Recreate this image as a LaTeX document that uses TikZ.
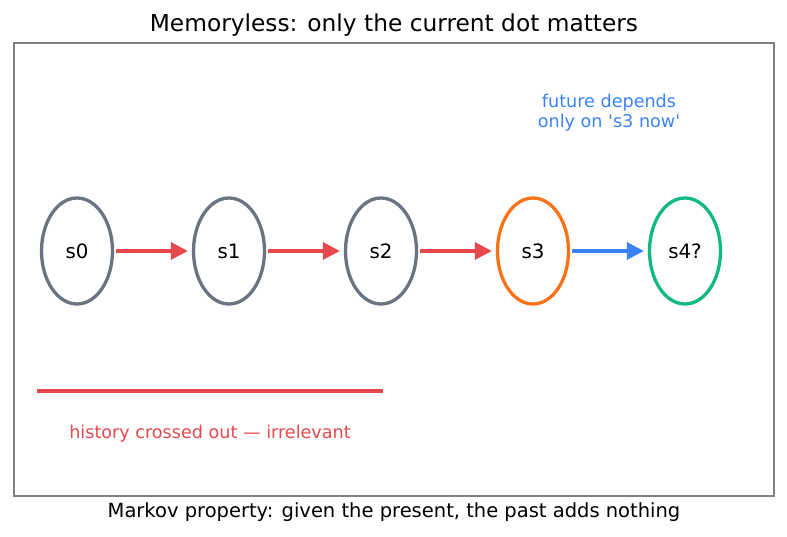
\documentclass[tikz,border=0pt]{standalone}
\usepackage{fontspec}
\setmainfont{DejaVu Sans}[Ligatures=TeXOff]
\usetikzlibrary{arrows.meta,shapes.geometric}
\definecolor{cgray}{HTML}{6B7280}
\definecolor{corange}{HTML}{F97316}
\definecolor{cgreen}{HTML}{10B981}
\definecolor{cred}{HTML}{E5484D}
\definecolor{cblue}{HTML}{3B82F6}
\definecolor{cframe}{HTML}{808080}
\tikzset{
  state/.style={draw=#1, line width=3.3pt, ellipse, minimum width=71pt, minimum height=106pt, inner sep=0pt, font=\fontsize{19.8}{22}\selectfont},
  flow/.style={draw=#1, line width=3.3pt, -{Triangle[length=17pt,width=17pt]}, shorten <=2pt, shorten >=4pt},
}
\begin{document}
\begin{tikzpicture}[x=1pt,y=-1pt]
\useasboundingbox (0,0) rectangle (787,537);
\node[draw=cframe, line width=1.5pt, minimum width=760pt, minimum height=453pt, inner sep=0pt] (frame) at (394,269.5) {};
\node[font=\fontsize{23.3}{26}\selectfont] (title) at (394,25) {Memoryless: only the current dot matters};
\node[font=\fontsize{19.5}{23}\selectfont] (caption) at (394,512) {Markov property: given the present, the past adds nothing};
\node[state=cgray] (s0) at (77,251) {s0};
\node[state=cgray] (s1) at (229,251) {s1};
\node[state=cgray] (s2) at (381,251) {s2};
\node[state=corange] (s3) at (533,251) {s3};
\node[state=cgreen] (s4) at (685,251) {s4?};
\draw[flow=cred] (s0) -- (s1);
\draw[flow=cred] (s1) -- (s2);
\draw[flow=cred] (s2) -- (s3);
\draw[flow=cblue] (s3) -- (s4);
\coordinate (hA) at (37,391);
\coordinate (hB) at (383,391);
\draw[cred, line width=4pt] (hA) -- (hB);
\node[text=cred, font=\fontsize{17.6}{21}\selectfont] (hist) at (210,434) {history crossed out — irrelevant};
\node[text=cblue, font=\fontsize{17.6}{20}\selectfont, align=center] (fut) at (609,113) {future depends\\only on 's3 now'};
\end{tikzpicture}
\end{document}
